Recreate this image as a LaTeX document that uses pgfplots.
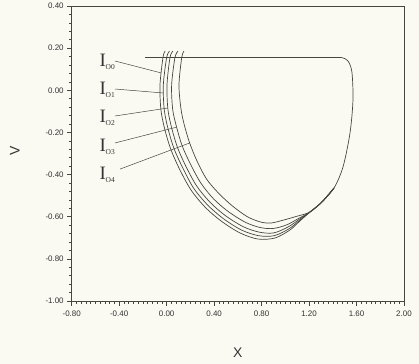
\documentclass[border=0pt]{standalone}
\usepackage{pgfplots}
\pgfplotsset{compat=1.18}
\usepackage{fontspec}
\setmainfont{Liberation Sans}
\newfontfamily\serif{Liberation Serif}
\definecolor{bg}{RGB}{251,250,242}
\definecolor{ln}{RGB}{70,70,60}
\newcommand{\lab}[1]{{\serif\fontsize{19}{19}\selectfont I}\kern-0.3pt\raisebox{-3bp}{\serif\fontsize{7.5}{7.5}\selectfont #1}}
\begin{document}
\begin{tikzpicture}
\fill[bg] (-71.7bp,-63bp) rectangle (347.3bp,301bp);
\begin{axis}[
  at={(0,0)}, anchor=south west,
  scale only axis, width=332.3bp, height=295bp,
  xmin=-0.8, xmax=2.0, ymin=-1.0, ymax=0.4,
  xtick={-0.8,-0.4,0,0.4,0.8,1.2,1.6,2.0},
  ytick={-1,-0.8,-0.6,-0.4,-0.2,0,0.2,0.4},
  minor x tick num=9, minor y tick num=4,
  tick pos=left, tick align=outside,
  major tick length=4.5bp, minor tick length=2.5bp,
  axis line style={ln, line width=0.6pt},
  tick style={ln, line width=0.5pt},
  /pgf/number format/assume math mode=true,
  ticklabel style={font=\fontsize{8}{8}\selectfont, text=black!80},
  xticklabel style={yshift=-2bp, /pgf/number format/.cd, fixed, fixed zerofill, precision=2},
  yticklabel style={/pgf/number format/.cd, fixed, fixed zerofill, precision=2},
  xlabel={X}, ylabel={V},
  label style={font=\fontsize{14}{14}\selectfont, text=black!80},
  xlabel style={at={(axis description cs:0.5,-0.176)}, anchor=center},
  ylabel style={at={(axis description cs:-0.1715,0.51)}, anchor=center},
  clip=false,
  every axis plot/.append style={ln, line width=0.7pt, mark=none},
]
% top line
\addplot[sharp plot] coordinates {(-0.183,0.155) (1.44,0.155)};
% common right branch
\addplot[smooth] coordinates {
(1.40,0.155) (1.477,0.155) (1.528,0.139) (1.561,0.087) (1.570,-0.046) (1.545,-0.203)
(1.486,-0.364) (1.410,-0.464) (1.309,-0.530)};
% O0
\addplot[smooth] coordinates {
(-0.014,0.186) (-0.031,0.155) (-0.056,0.025) (-0.048,-0.094) (-0.014,-0.189) (0.037,-0.283)
(0.112,-0.378) (0.205,-0.473) (0.323,-0.554) (0.458,-0.620) (0.618,-0.677) (0.770,-0.706)
(0.913,-0.701) (1.039,-0.663) (1.123,-0.620) (1.207,-0.578) (1.309,-0.530) (1.410,-0.464)};
% O1
\addplot[smooth] coordinates {
(0.024,0.186) (0.000,0.155) (-0.028,0.025) (-0.020,-0.093) (0.013,-0.185) (0.063,-0.278)
(0.138,-0.371) (0.228,-0.465) (0.343,-0.543) (0.475,-0.608) (0.630,-0.663) (0.774,-0.690)
(0.907,-0.690) (1.032,-0.657) (1.119,-0.618) (1.207,-0.578) (1.309,-0.530) (1.410,-0.464)};
% O2
\addplot[smooth] coordinates {
(0.053,0.186) (0.028,0.155) (0.003,0.025) (0.011,-0.092) (0.043,-0.180) (0.092,-0.272)
(0.165,-0.364) (0.254,-0.455) (0.365,-0.531) (0.493,-0.594) (0.644,-0.647) (0.778,-0.673)
(0.901,-0.677) (1.022,-0.649) (1.114,-0.614) (1.207,-0.578) (1.309,-0.530) (1.410,-0.464)};
% O3
\addplot[smooth] coordinates {
(0.096,0.186) (0.070,0.155) (0.042,0.025) (0.051,-0.091) (0.084,-0.175) (0.131,-0.264)
(0.203,-0.353) (0.289,-0.441) (0.395,-0.515) (0.518,-0.575) (0.662,-0.626) (0.786,-0.651)
(0.896,-0.656) (1.010,-0.639) (1.106,-0.610) (1.207,-0.578) (1.309,-0.530) (1.410,-0.464)};
% O4
\addplot[smooth] coordinates {
(0.146,0.186) (0.127,0.155) (0.104,0.025) (0.121,-0.089) (0.149,-0.165) (0.194,-0.250)
(0.256,-0.336) (0.336,-0.421) (0.437,-0.488) (0.550,-0.547) (0.677,-0.599) (0.790,-0.625)
(0.879,-0.630) (0.984,-0.616) (1.090,-0.599) (1.207,-0.578) (1.309,-0.530) (1.410,-0.464)};
% labels
\node[text=black!80, anchor=center] at (axis cs:-0.50,0.135) {\lab{O0}};
\node[text=black!80, anchor=center] at (axis cs:-0.50,0.000) {\lab{O1}};
\node[text=black!80, anchor=center] at (axis cs:-0.50,-0.130) {\lab{O2}};
\node[text=black!80, anchor=center] at (axis cs:-0.50,-0.268) {\lab{O3}};
\node[text=black!80, anchor=center] at (axis cs:-0.50,-0.400) {\lab{O4}};
\draw[ln, line width=0.5pt] (axis cs:-0.435,0.139) -- (axis cs:-0.044,0.082);
\draw[ln, line width=0.5pt] (axis cs:-0.435,0.006) -- (axis cs:-0.025,-0.013);
\draw[ln, line width=0.5pt] (axis cs:-0.435,-0.122) -- (axis cs:0.011,-0.084);
\draw[ln, line width=0.5pt] (axis cs:-0.435,-0.250) -- (axis cs:0.084,-0.175);
\draw[ln, line width=0.5pt] (axis cs:-0.393,-0.374) -- (axis cs:0.194,-0.250);
\end{axis}
\pgfresetboundingbox
\useasboundingbox (-71.7bp,-63bp) rectangle (347.3bp,301bp);
\end{tikzpicture}
\end{document}
